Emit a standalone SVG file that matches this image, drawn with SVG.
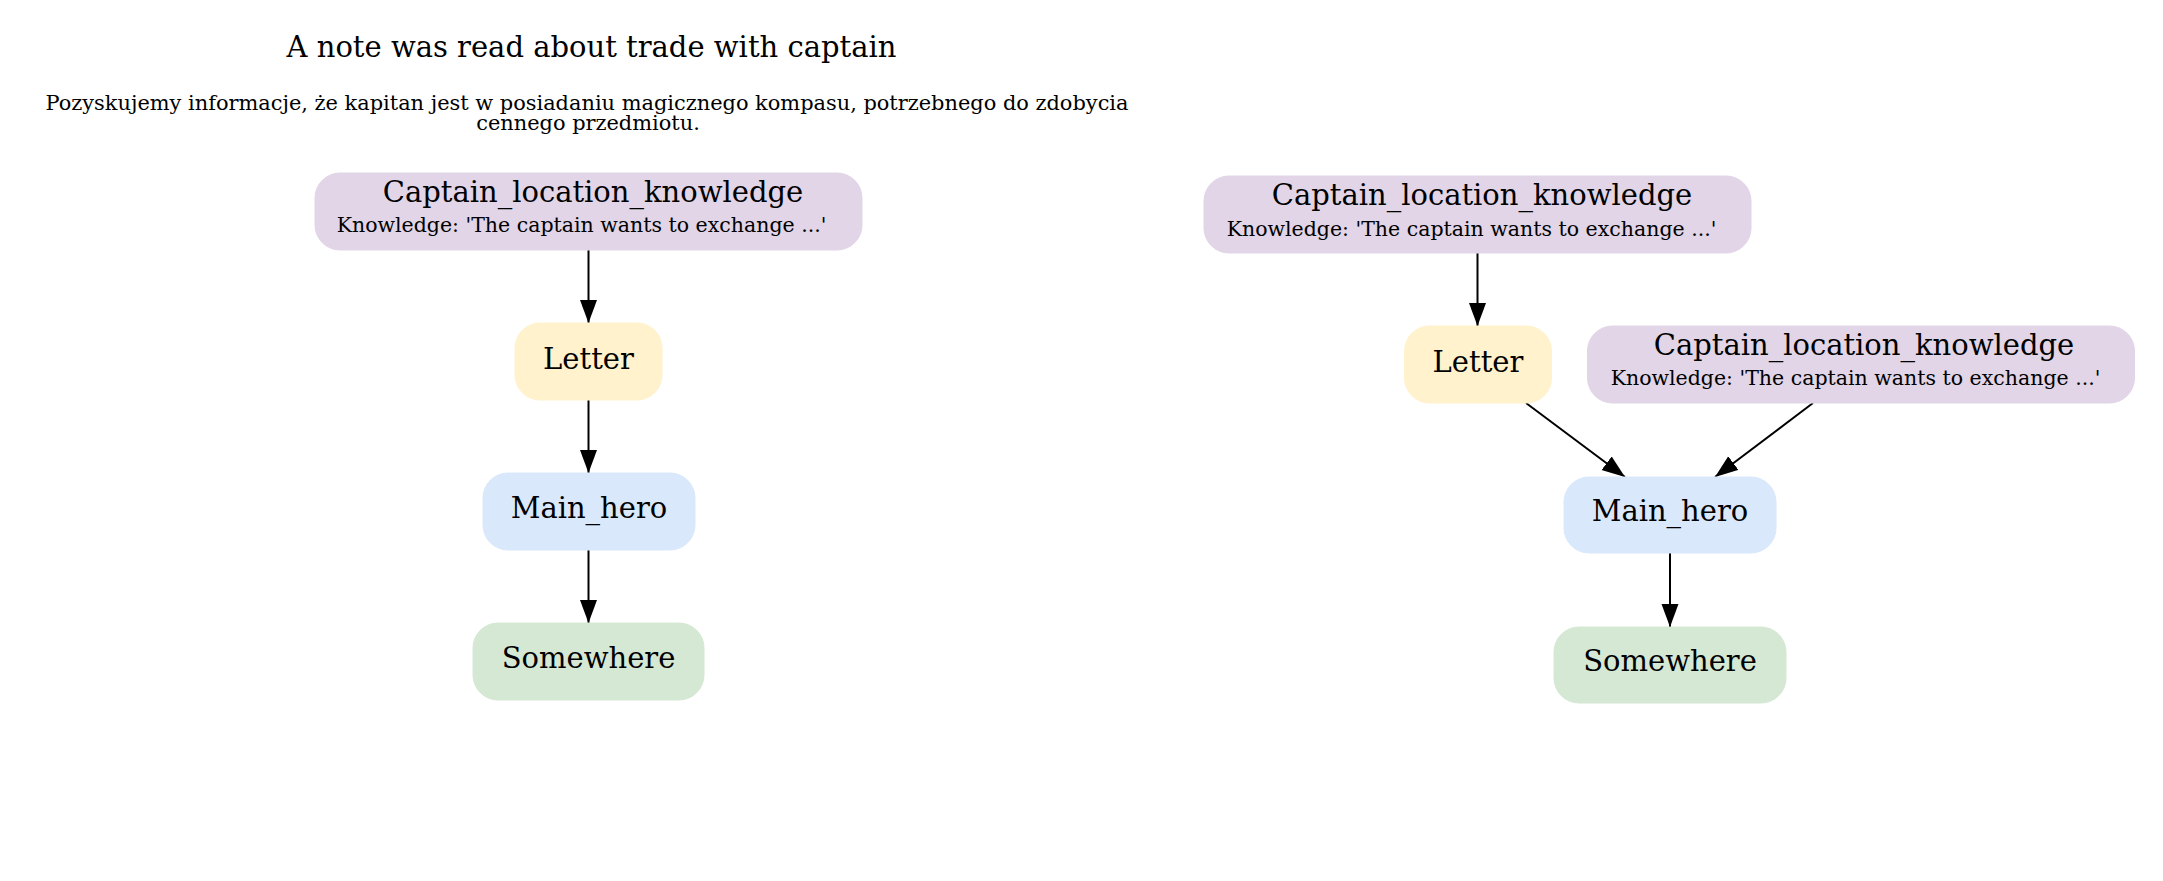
<svg xmlns="http://www.w3.org/2000/svg" width="2163" height="881" viewBox="0 0 2163 881">
<style>
.t{font-family:"DejaVu Serif",serif;fill:#000;text-anchor:middle}
.big{font-size:29px}
.small{font-size:20.5px}
.sub{font-size:20.9px}
.edge{stroke:#000;stroke-width:2;fill:none}
.k{fill:#e1d5e7;stroke:#e1d5e7}
.l{fill:#fff2cc;stroke:#fff2cc}
.h{fill:#dae8fc;stroke:#dae8fc}
.s{fill:#d5e8d4;stroke:#d5e8d4}
</style>
<defs>
<marker id="arr" markerUnits="userSpaceOnUse" markerWidth="24" markerHeight="18" refX="23" refY="8.5" orient="auto">
<path d="M0,0 L23,8.5 L0,17 z" fill="#000"/>
</marker>
</defs>
<rect width="2163" height="881" fill="#fff"/>
<g id="title">
<text class="t big" x="591.5" y="57">A note was read about trade with captain</text>
<text class="t sub" x="587" y="110">Pozyskujemy informacje, że kapitan jest w posiadaniu magicznego kompasu, potrzebnego do zdobycia</text>
<text class="t sub" x="588" y="130">cennego przedmiotu.</text>
</g>
<g id="connectors">
<line class="edge" x1="588.5" y1="250" x2="588.5" y2="323" marker-end="url(#arr)"/>
<line class="edge" x1="588.5" y1="400" x2="588.5" y2="473" marker-end="url(#arr)"/>
<line class="edge" x1="588.5" y1="550" x2="588.5" y2="623" marker-end="url(#arr)"/>
<line class="edge" x1="1477.5" y1="253" x2="1477.5" y2="326" marker-end="url(#arr)"/>
<line class="edge" x1="1526" y1="403" x2="1625" y2="477" marker-end="url(#arr)"/>
<line class="edge" x1="1813" y1="403" x2="1715" y2="477" marker-end="url(#arr)"/>
<line class="edge" x1="1670" y1="553" x2="1670" y2="627" marker-end="url(#arr)"/>
</g>
<g id="left_captain">
<rect class="k" x="315" y="173" width="547" height="77" rx="25"/>
<text class="t big" x="593" y="202">Captain_location_knowledge</text>
<text class="t small" x="581.5" y="232">Knowledge: 'The captain wants to exchange ...'</text>
</g>
<g id="left_letter">
<rect class="l" x="515" y="323" width="147" height="77" rx="25"/>
<text class="t big" x="588.5" y="369">Letter</text>
</g>
<g id="left_main_hero">
<rect class="h" x="483" y="473" width="212" height="77" rx="25"/>
<text class="t big" x="589" y="518">Main_hero</text>
</g>
<g id="left_somewhere">
<rect class="s" x="473" y="623" width="231" height="77" rx="25"/>
<text class="t big" x="588.5" y="668">Somewhere</text>
</g>
<g id="right_captain">
<rect class="k" x="1204" y="176" width="547" height="77" rx="25"/>
<text class="t big" x="1482" y="205">Captain_location_knowledge</text>
<text class="t small" x="1471.5" y="236">Knowledge: 'The captain wants to exchange ...'</text>
</g>
<g id="right_letter">
<rect class="l" x="1404.5" y="326" width="147" height="77" rx="25"/>
<text class="t big" x="1478" y="372">Letter</text>
</g>
<g id="right_captain2">
<rect class="k" x="1587.5" y="326" width="547" height="77" rx="25"/>
<text class="t big" x="1864" y="355">Captain_location_knowledge</text>
<text class="t small" x="1855.5" y="385">Knowledge: 'The captain wants to exchange ...'</text>
</g>
<g id="right_main_hero">
<rect class="h" x="1564" y="477" width="212" height="76" rx="25"/>
<text class="t big" x="1670" y="521">Main_hero</text>
</g>
<g id="right_somewhere">
<rect class="s" x="1554" y="627" width="232" height="76" rx="25"/>
<text class="t big" x="1670" y="671">Somewhere</text>
</g>
</svg>
